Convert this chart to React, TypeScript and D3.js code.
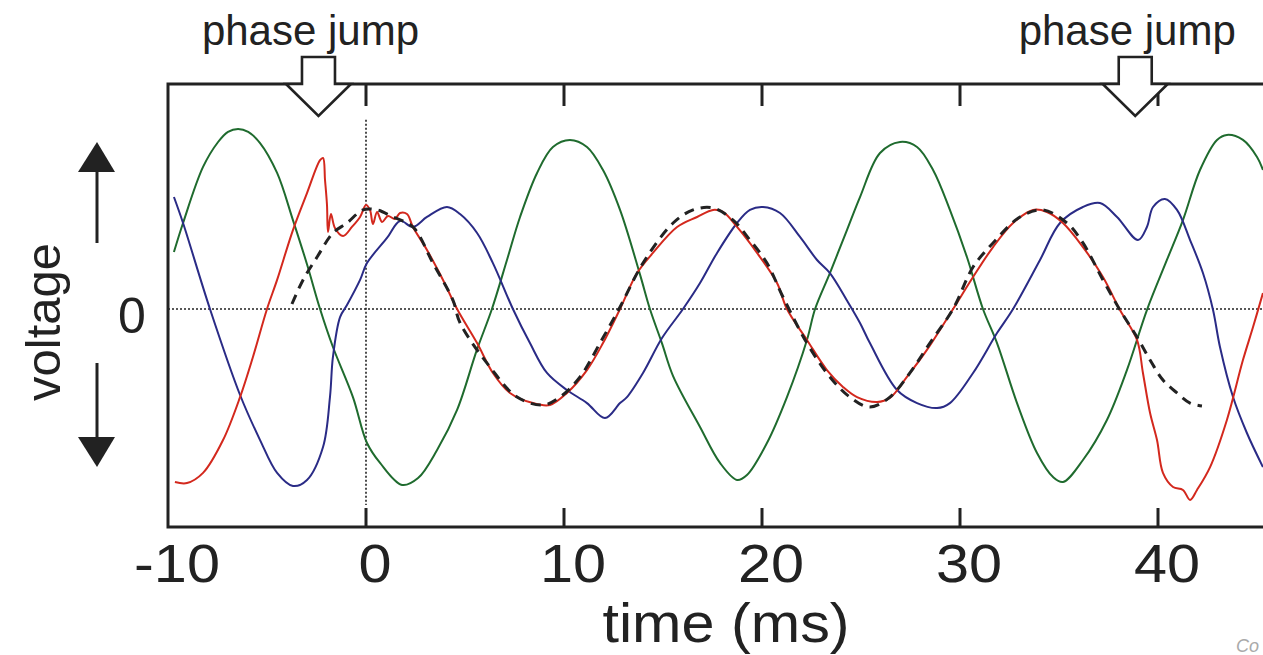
import React, { useEffect, useRef } from 'react'
import * as d3 from 'd3'

const W = 1263
const H = 655

// time in ms, voltage in arbitrary units (peak of the reference ≈ 10)
const green: [number, number][] = [
  [-9.7, 3.31], [-9.24, 5.0], [-8.23, 8.26], [-7.47, 9.71], [-6.97, 10.3], [-6.46, 10.47],
  [-5.95, 10.3], [-5.35, 9.65], [-4.49, 7.91], [-3.69, 5.17], [-2.98, 2.6], [-2.32, 0],
  [-1.67, -2.21], [-0.66, -5.12], [0.05, -7.79], [0.71, -8.95], [1.82, -10.23], [2.63, -9.83],
  [3.59, -8.2], [4.6, -5.87], [5.6, -2.38], [6.36, 0], [7.12, 2.85], [7.78, 5.35],
  [8.64, 7.91], [9.44, 9.42], [10.3, 9.83], [11.16, 9.42], [11.97, 8.08], [12.83, 5.76],
  [13.84, 2.0], [14.34, 0], [14.95, -2.0], [15.51, -3.9], [16.87, -6.86], [17.88, -8.95],
  [18.74, -9.94], [19.24, -9.65], [20.25, -7.79], [21.26, -5.12], [22.27, -1.8], [22.68, 0],
  [23.43, 2.09], [24.29, 4.59], [24.95, 6.51], [25.96, 9.07], [26.97, 9.71], [27.83, 9.42],
  [28.64, 8.08], [29.49, 5.76], [30.35, 3.02], [31.16, 0], [31.87, -1.98], [32.88, -5.47],
  [33.89, -8.37], [34.7, -9.77], [35.2, -10.06], [36.21, -8.78], [37.42, -6.45], [38.43, -3.55],
  [39.44, -0.06], [40.45, 2.85], [41.26, 5.17], [42.12, 8.08], [42.98, 9.83], [43.48, 10.12],
  [44.29, 9.83], [45.0, 8.84], [45.3, 8.08]
]

const blue: [number, number][] = [
  [-9.7, 6.51], [-9.24, 5.0], [-7.88, 0], [-6.36, -5.0], [-5.35, -7.62], [-4.49, -9.53],
  [-3.69, -10.29], [-2.98, -9.94], [-2.17, -8.02], [-1.82, -5.12], [-1.67, -2.79], [-1.31, -0.47],
  [-0.96, 0.23], [-0.3, 1.69], [0.05, 2.67], [1.06, 4.13], [1.72, 5.12], [2.37, 4.77],
  [3.08, 5.35], [4.09, 5.93], [4.75, 5.52], [5.61, 4.42], [6.41, 2.67], [7.42, 0],
  [8.28, -1.98], [9.14, -3.72], [10.15, -4.71], [11.16, -5.47], [12.07, -6.34], [12.83, -5.47],
  [13.18, -5.12], [13.99, -3.72], [14.95, -1.69], [16.01, 0], [16.87, 1.51], [17.73, 3.26],
  [18.74, 5.0], [19.39, 5.76], [20.05, 5.93], [20.91, 5.58], [21.92, 4.19], [22.78, 2.85],
  [23.43, 2.09], [24.29, 0.5], [24.95, -0.81], [25.45, -1.98], [26.82, -4.71], [27.83, -5.47],
  [28.84, -5.76], [29.49, -5.47], [30.66, -3.72], [31.87, -1.4], [32.68, 0], [34.04, 2.85],
  [35.05, 5.0], [36.21, 5.93], [37.07, 6.16], [37.93, 5.35], [38.99, 4.01], [39.44, 4.77],
  [39.75, 5.93], [40.35, 6.4], [40.96, 5.76], [41.62, 4.01], [42.27, 2.09], [42.78, -0.06],
  [43.13, -2.21], [43.79, -5.12], [44.49, -7.21], [45.3, -9.19]
]

const red: [number, number][] = [
  [-9.65, -10.06], [-9.04, -10.12], [-8.23, -9.53], [-7.22, -7.62], [-6.36, -5.12], [-5.71, -2.79],
  [-5.0, 0], [-4.49, 1.69], [-3.69, 4.59], [-2.98, 6.74], [-2.32, 8.66], [-2.17, 8.78],
  [-2.07, 7.5], [-1.97, 6.05], [-1.92, 4.48], [-1.77, 5.52], [-1.57, 4.71], [-1.16, 4.24],
  [-0.71, 4.77], [-0.3, 5.35], [0, 6.05], [0.2, 5.76], [0.35, 4.94], [0.56, 5.64],
  [0.81, 5.06], [1.11, 5.41], [1.46, 5.23], [1.72, 5.58], [2.07, 5.52], [2.37, 4.77],
  [3.08, 3.43], [3.89, 1.69], [4.6, 0], [5.61, -1.98], [6.41, -3.72], [7.27, -4.88],
  [8.43, -5.47], [9.29, -5.58], [10.15, -4.88], [11.16, -3.55], [11.97, -1.98], [12.83, 0],
  [13.69, 2.09], [14.49, 3.26], [15.71, 4.77], [16.72, 5.35], [17.53, 5.76], [18.03, 5.64],
  [18.74, 4.77], [19.75, 3.26], [20.76, 1.51], [21.26, 0], [22.27, -1.8], [23.28, -3.55],
  [24.09, -4.53], [24.8, -5.12], [25.81, -5.41], [26.46, -5.17], [27.32, -3.95], [28.33, -2.38],
  [29.65, 0], [30.66, 1.86], [31.67, 3.6], [32.68, 5.0], [33.69, 5.76], [34.39, 5.64],
  [35.2, 5.0], [36.21, 3.6], [37.22, 1.86], [38.08, -0.06], [38.94, -1.8], [39.24, -3.72],
  [39.6, -6.05], [39.95, -7.62], [40.25, -9.53], [40.76, -10.35], [41.26, -10.52], [41.62, -11.1],
  [41.97, -10.52], [42.63, -9.19], [43.48, -6.45], [44.29, -2.97], [44.8, -1.05], [45.3, 0.93]
]

const reference: [number, number][] = [
  [-3.74, 0.29], [-3.18, 1.69], [-2.47, 3.02], [-1.67, 4.42], [-0.96, 5.0], [-0.15, 5.76],
  [0.56, 5.76], [1.36, 5.35], [2.37, 4.77], [3.38, 2.67], [4.39, 0.52], [4.75, -0.81],
  [6.26, -3.37], [7.63, -5.12], [8.94, -5.58], [9.8, -5.12], [10.81, -3.95], [11.82, -1.98],
  [12.83, 0.12], [13.99, 2.67], [15.51, 5.0], [16.52, 5.76], [17.53, 5.87], [18.54, 5.17],
  [19.39, 4.01], [20.25, 2.67], [21.06, 0.7], [22.27, -1.98], [23.43, -3.95], [24.44, -5.12],
  [25.45, -5.7], [26.46, -5.12], [27.47, -3.72], [28.48, -1.98], [29.65, 0], [30.66, 2.44],
  [31.67, 3.84], [33.03, 5.35], [34.19, 5.76], [35.4, 5.0], [36.21, 3.84], [37.22, 1.69],
  [38.08, -0.06], [38.94, -1.63], [39.6, -2.97], [40.25, -4.13], [40.96, -4.88], [41.62, -5.47],
  [42.22, -5.64]
]

const xTicks = [-10, 0, 10, 20, 30, 40]
const phaseJumps = [-2.4, 38.85]

const App = () => {
  const ref = useRef<SVGSVGElement>(null)

  useEffect(() => {
    const svg = d3.select(ref.current)
    svg.selectAll('*').remove()

    const font = "'Liberation Sans', Arial, sans-serif"
    const ink = '#222'
    const top = 84
    const bottom = 527
    const x = d3.scaleLinear().domain([-10, 40]).range([168, 1158])
    const y = d3.scaleLinear().domain([-10, 10]).range([481, 137])

    const line = d3.line<[number, number]>()
      .x(d => x(d[0]))
      .y(d => y(d[1]))
      .curve(d3.curveCatmullRom.alpha(0.5))

    // zero line and t = 0 marker
    svg.append('line')
      .attr('x1', x(-10)).attr('x2', W)
      .attr('y1', y(0)).attr('y2', y(0))
      .attr('stroke', ink).attr('stroke-width', 1.6)
      .attr('stroke-dasharray', '2,2')
    svg.append('line')
      .attr('x1', x(0)).attr('x2', x(0))
      .attr('y1', y(11)).attr('y2', y(-11.4))
      .attr('stroke', ink).attr('stroke-width', 1.6)
      .attr('stroke-dasharray', '2,2')

    const series = [
      { data: green, color: '#1f6b2e', dash: null, width: 2 },
      { data: blue, color: '#2a2b86', dash: null, width: 2 },
      { data: red, color: '#d3281d', dash: null, width: 2 },
      { data: reference, color: '#222', dash: '10,7', width: 3 }
    ]
    series.forEach(s => {
      svg.append('path')
        .attr('d', line(s.data))
        .attr('fill', 'none')
        .attr('stroke', s.color)
        .attr('stroke-width', s.width)
        .attr('stroke-dasharray', s.dash)
    })

    // frame
    svg.append('path')
      .attr('d', `M${W},${top}H${x(-10)}V${bottom}H${W}`)
      .attr('fill', 'none')
      .attr('stroke', ink)
      .attr('stroke-width', 3)

    const inner = xTicks.filter(t => t > -10)
    svg.selectAll('.tick-top').data(inner).enter().append('line')
      .attr('x1', d => x(d)).attr('x2', d => x(d))
      .attr('y1', top).attr('y2', top + 22)
      .attr('stroke', ink).attr('stroke-width', 3)
    svg.selectAll('.tick-bottom').data(inner).enter().append('line')
      .attr('x1', d => x(d)).attr('x2', d => x(d))
      .attr('y1', bottom).attr('y2', bottom - 19)
      .attr('stroke', ink).attr('stroke-width', 3)

    // the original figure is slightly stretched horizontally
    svg.selectAll('.tick-label').data(xTicks).enter().append('text')
      .attr('transform', d => `translate(${x(d) + 9},582) scale(1.1,1)`)
      .attr('text-anchor', 'middle')
      .attr('font-family', font)
      .attr('font-size', 54)
      .attr('fill', ink)
      .text(d => String(d))

    svg.append('text')
      .attr('transform', 'translate(726,642) scale(1.06,1)')
      .attr('text-anchor', 'middle')
      .attr('font-family', font).attr('font-size', 56)
      .attr('fill', ink)
      .text('time (ms)')

    // voltage label with arrows
    svg.append('text')
      .attr('transform', 'translate(60,322) rotate(-90)')
      .attr('text-anchor', 'middle')
      .attr('font-family', font).attr('font-size', 49)
      .attr('fill', ink)
      .text('voltage')
    svg.append('text')
      .attr('x', 132).attr('y', 333)
      .attr('text-anchor', 'middle')
      .attr('font-family', font).attr('font-size', 50)
      .attr('fill', ink)
      .text('0')
    svg.append('line').attr('x1', 97).attr('x2', 97).attr('y1', 243).attr('y2', 170)
      .attr('stroke', ink).attr('stroke-width', 3)
    svg.append('path').attr('d', 'M78,172L115,172L97,142Z').attr('fill', ink)
    svg.append('line').attr('x1', 97).attr('x2', 97).attr('y1', 363).attr('y2', 439)
      .attr('stroke', ink).attr('stroke-width', 3)
    svg.append('path').attr('d', 'M78,437L115,437L97,467Z').attr('fill', ink)

    // phase jump markers
    phaseJumps.forEach(t => {
      const cx = x(t)
      svg.append('path')
        .attr('d', `M${cx - 16.5},57H${cx + 16.5}V${top}H${cx + 32.5}L${cx},116L${cx - 32.5},${top}H${cx - 16.5}Z`)
        .attr('fill', '#fff')
        .attr('stroke', ink)
        .attr('stroke-width', 2.6)
        .attr('stroke-linejoin', 'miter')
      svg.append('text')
        .attr('x', cx - 8).attr('y', 45)
        .attr('text-anchor', 'middle')
        .attr('font-family', font).attr('font-size', 42)
        .attr('fill', ink)
        .text('phase jump')
    })

    svg.append('text')
      .attr('x', 1236).attr('y', 652)
      .attr('font-family', font).attr('font-size', 18)
      .attr('font-style', 'italic')
      .attr('fill', '#aaa')
      .text('Co')
  }, [])

  return (
    <svg
      ref={ref}
      width={W}
      height={H}
      viewBox={`0 0 ${W} ${H}`}
      style={{ position: 'absolute', left: 0, top: 0, background: '#fff' }}
    />
  )
}

export default App
